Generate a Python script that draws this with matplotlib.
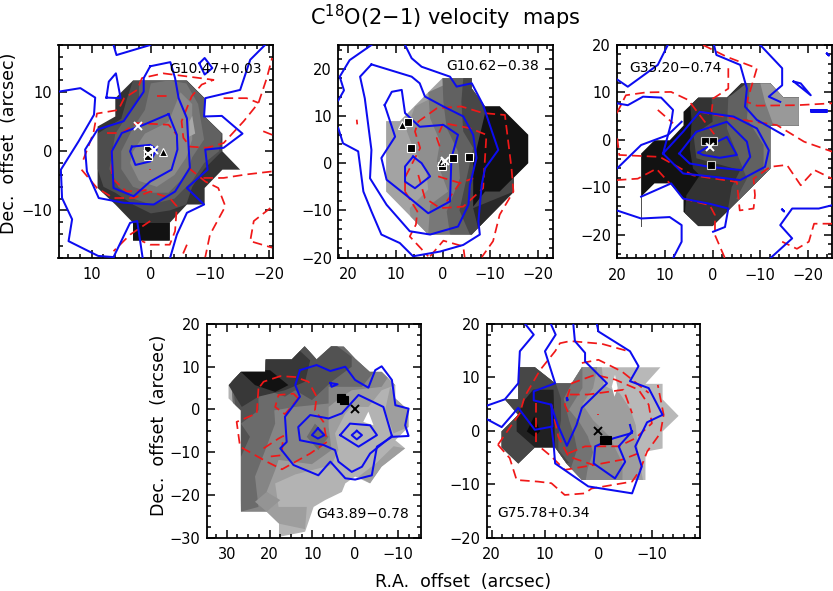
import matplotlib
matplotlib.use('Agg')
import matplotlib.pyplot as plt
from matplotlib.patches import Polygon
from matplotlib.ticker import MultipleLocator

# ---------- G10.47+0.03 ----------
a_outline = [(3,12),(-6.1,12),(-9.1,9),(-9.1,5.9),(-12.1,3),(-12.1,0),(-15.1,-3.1),(-12.1,-3.1),(-9.1,-6.2),(-9.1,-9),(-6.1,-9),(-3.2,-12.1),(-3.2,-15.1),(3,-15.1),(3,-12.1),(6,-9),(9,-6.2),(9,4.2),(6,5.9),(6,9)]
a_fills = [
 [(3,12),(-6,12),(-9,9),(-9,6),(-12,3),(-12,0),(-9,-3),(-7,-6),(-6,-9),(-3.2,-10),(0,-10.5),(3,-9),(6,-7),(8,-6),(9,-3),(9,3),(5,5.5),(4,9)],
 [(2,12),(-6,12),(-9,9),(-9,6),(-12,3),(-11.5,0),(-9,-2),(-7,-5),(-4,-8),(0,-9),(3,-8),(5.5,-6),(7,-3),(6.5,0),(6,3),(4,6),(2,9)],
 [(0,11.5),(-3,12),(-6,11.5),(-8,8),(-8.5,5),(-9,2),(-7,-1),(-6,-4),(-3,-7),(0,-7),(3,-6),(5,-3),(5,0),(3,4),(1,7)],
 [(-5,10),(-7,8),(-7,2),(-6,-1),(-4,-4),(-1,-6),(2,-5),(3.5,-2),(3,0),(1,3),(-3,5)],
 [(-7,6),(-7.5,3),(-6.5,2.5),(-6.5,5)],
 [(3,-12.1),(-3.2,-12.1),(-3.2,-15.1),(3,-15.1)],
]
a_blue = [
 [(15.6,10.1),(11.9,10.7),(9.4,9.1),(9.6,6.2),(12.2,1.7),(15.2,-3.1),(15,-7.9),(13.3,-11.5),(13.9,-15.2),(8.9,-17.7),(6.3,-17.9)],
 [(6.3,18),(5.8,16.3),(0.1,18)],
 [(7.5,9.1),(7.1,11.8),(5.9,13.2),(5.1,9),(7.5,9.1)],
 [(-8.2,14.9),(-9.1,15.8),(-10.4,14.1),(-9.1,13),(-8.2,14.9)],
 [(-19.3,18),(-16.8,15.5),(-15.1,10.4),(-9.2,9),(-9,5.9),(-12,6),(-15.5,3),(-12.3,0.6),(-9.2,0.3),(-9.6,-3.1),(-6.1,-6.2),(-9,-9),(-6.1,-10.4),(-4.4,-14.1),(-3.3,-17.9)],
 [(6.3,-17.9),(3.5,-12.1),(2.3,-11.8),(1.4,-17.9)],
 [(0.1,14.4),(-3.3,15.1),(-4.1,12.4),(-4.7,9),(-6.1,5.6),(-6.4,0.6),(-6.6,-2.8),(-4.1,-6.8),(-0.5,-9),(4.6,-8.7),(8.8,-7.9),(10.8,-3.4),(11.1,0.3),(9,3.7),(4.6,5.1),(1.2,10.1),(1.2,12.4),(0.1,14.4)],
 [(-3,6.3),(-4.4,2.8),(-4.5,0.3),(-3.5,-3.1),(0.1,-5.1),(2.9,-7.6),(6.3,-6.2),(6.6,0),(4.9,3.1),(1.2,4.5),(-3,6.3)],
 [(3.2,0.8),(3.5,0),(2.6,-2.3),(0.1,-1.7),(-1,0.3),(0.1,1.1),(3.2,0.8)],
]
a_red = [
 [(11.4,-1.4),(9.7,3.1),(9.1,6.4),(5.5,7),(4.5,9),(2.3,10.4),(1.5,12.4),(-2.1,13.2),(-10.6,12.1),(-8.6,11.3),(-6.9,9.3),(-5.2,5.1),(-5.5,2.3),(-6.6,0.8),(-9.5,0.6),(-12.3,1.4),(-15.7,5.1),(-18.2,8.2),(-19.6,12.4),(-20.5,15.8)],
 [(11.7,-3.1),(9.1,-6.2),(6.3,-7.9),(2.9,-7.9),(0.1,-6.8),(-3.2,-7.9),(-4.4,-9.3),(-4.1,-13.5),(-3.2,-15.8),(0.1,-15.8),(1.5,-15.2)],
 [(0.1,-11.8),(3.5,-14.1),(6.3,-16.9)],
 [(7.4,3.1),(4.9,3.1),(2.4,4.8),(-3,4.5),(-4.4,2.8)],
 [(6.6,0.3),(6.6,-4.5),(4.1,-6.8),(0.1,-6.5)],
 [(-1,9.3),(-3.3,9.3)],
 [(-12.3,9),(-16.2,9),(-18.2,8.2)],
 [(-19,3.4),(-20.5,2.8)],
 [(-8.9,-4.5),(-12.3,-4.5),(-16.2,-3.9),(-20.5,-3.4)],
 [(-6.4,-2.8),(-9.2,-5.1),(-11.4,-6.2),(-12.6,-9.3),(-10,-14.1),(-9.2,-17.9)],
 [(-20.2,-9.6),(-17.4,-11.8),(-16.8,-15.2),(-20.5,-16.3)],
 [(-6.1,-15.8),(-5.2,-17.9)],
 [(0.1,-3),(0.1,-3.2)],
]
a_squares = [(0.5,0.3),(0.5,-0.8)]
a_triangles = [(-2.1,-0.1)]
a_crosses = [(2.1,4.3),(0.4,-0.5),(-0.6,0.3)]

# ---------- G10.62-0.38 ----------
b_outline = [(0.1,18),(-6.1,18),(-6.1,15.8),(-8.9,12),(-12,12),(-18,6),(-18,0),(-15,-3),(-15,-6),(-8.9,-12.2),(-6.1,-15.1),(3.1,-15.1),(12,-6),(12,8.9),(9.1,8.9),(3.1,15)]
b_fills = [
 [(5.9,12),(7.7,7),(6.3,3.2),(3.5,-1.8),(3.1,-5.6),(7,-9.5),(6.6,-15.1),(-30,-30),(-30,30)],
 [(3.1,15),(2.7,9.5),(0.6,4.6),(1.3,0.4),(-1.1,-6),(2.7,-8.8),(3.1,-15.1),(-30,-30),(-30,30)],
 [(0.1,18),(-0.1,13),(-0.8,7.4),(-3.2,2.5),(-3.6,-3.2),(-0.8,-10.2),(-1.5,-15.1),(-30,-30),(-30,30)],
 [(-4.3,18),(-3.9,13),(-4.3,6.7),(-6.4,3.2),(-5,-3.2),(-3.5,-10),(-5.7,-15.1),(-30,-30),(-30,30)],
 [(-6.4,-9.5),(-15,-6),(-18,-10),(-9,-20)],
 [(-8.9,12),(-12,12),(-18,6),(-18,0),(-15,-3),(-12,-6),(-8.9,-6),(-6.4,-9.2),(-6.4,0),(-8.9,10.5)],
]
b_blue = [
 [(15.1,25),(19.7,21.8),(21.8,18.3),(20.9,15.4),(22.1,13.3)],
 [(8,25),(6.6,22.2),(4.5,20.4),(-1.5,18.3),(-2.9,16.2),(-6.1,16.9),(-8.5,12.3),(-9.9,8.1),(-11.7,2.8),(-8.9,-1.1),(-8.2,-4.6),(-7.5,-12.3),(-7.8,-15.1),(-4.3,-17.3),(0.6,-18.7),(6.3,-19.7),(9.1,-16.9),(13,-15.1),(15.1,-10.2),(16.8,-6),(17.9,2.5),(21.1,4.2),(22.1,7.4)],
 [(15.1,20.9),(6.6,18.3),(4.9,16.9),(3.8,14.1),(-0.1,12),(-4.3,9.9),(-6.4,6),(-7.1,1.1),(-5.7,-4.6),(-5.4,-8.8),(-3.2,-13.4),(2.7,-15.1),(7,-14.4),(11.9,-8.8),(15.4,-3.2),(15.1,2.8),(16.5,13.7),(17.5,18.3),(15.1,20.9)],
 [(12.3,12.3),(10.8,15.1),(8.7,15.5),(8,10.6),(4.9,7.7),(-0.1,8.1),(-3.2,6),(-1.8,1.1),(-1.5,-8.1),(3.1,-10.6),(7,-7.4),(11.9,-3.5),(13,1.1),(10.1,5.6),(12.3,12.3)],
 [(6.3,1.4),(8,-0.7),(8,-3.9),(5.9,-5.3),(2.7,-2.8),(4.5,0),(6.3,1.4)],
]
b_red = [
 [(18.2,9.2),(18.1,8.2)],
 [(8,-6),(5.4,-10.2),(5.7,-13),(7,-15.5),(3.1,-19.7)],
 [(2.7,-19.7),(-0.1,-16.4),(-4.3,-17.6),(-4.6,-19.9)],
 [(8,-6),(8,-3),(4.8,3.2),(5.9,6.7),(5.2,8.8),(1.3,11.6),(-3.9,12),(-8.5,10.6),(-13.1,10.2),(-14.5,-1.1),(-14.9,-6),(-12,-10.9),(-10.6,-16.5),(-8.2,-19.9)],
 [(5.2,-2.5),(3.8,-7.4),(0.6,-9.5),(-4.3,-9.2),(-8.5,-5.3),(-9.2,6),(-5.7,7.4),(-0.1,8.5),(1.3,5.3),(0.3,2.5)],
 [(1,-2.8),(-3.6,-4.2),(-6.4,-3.2)],
 [(-0.8,-8.1),(-3.6,-4.2)],
]
b_squares = [(7.4,8.8),(6.8,3.2),(-5.6,1.3),(-2.2,1.1),(0.1,-0.5)]
b_triangles = [(8.7,8.1),(0.4,0.2)]
b_crosses = [(-0.4,0.4)]

# ---------- G35.20-0.74 ----------
c_outline = [(15,-2.9),(12.2,-0.1),(9,-0.1),(6.1,3),(6.1,5.9),(3,8.9),(-3,8.9),(-6,11.9),(-12.1,11.9),(-14.9,8.9),(-18.1,8.9),(-18.1,3),(-12.1,3),(-12.1,-6.1),(-3,-15.2),(0,-18.2),(3,-18.2),(6.1,-15.2),(6.1,-12.4),(9,-9.2),(12.2,-9.2),(15,-12)]
c_fills = [
 [(4.8,8.9),(4.4,3.8),(4.8,-1.8),(4.1,-6.1),(2.7,-7.5),(5.5,-11.7),(5.8,-15.2),(5,-30),(-30,-30),(-30,30)],
 [(0.2,8.9),(0,3.8),(4,1),(3.4,-3.9),(-5.8,-6.4),(-4,-10),(-3,-16),(-30,-16),(-30,12)],
 [(-3.3,8.9),(-3,2.4),(-5.8,-4.6),(-7.2,-8.2),(-5,-12.4),(-30,-30),(-30,30)],
 [(-7.9,11.9),(-7.2,4.5),(-10.7,-1.1),(-10.7,-6.1),(-30,-30),(-30,30)],
 [(-10,12),(-11,8),(-12.8,3),(-13,-20),(-30,-20),(-30,12)],
]
c_blue = [
 [(9.4,20),(11.5,15.8),(17.8,11.2),(20,12.7)],
 [(20.1,7.7),(17.8,7.3),(14.6,9.1),(10.8,8.9),(8.3,6.3),(8.7,3.5),(10.4,-2.9),(6.2,-7.1),(-0.1,-7.8),(-5.8,-8.5),(-11,-5.7),(-11.8,-2.2),(-9.3,2.4),(-4.4,4.9),(2.7,5.9),(6.2,1.7),(10.4,-2.9)],
 [(20.1,-6.1),(15,-1.1),(9.4,1),(6.5,3.8)],
 [(7,-2.9),(3.4,1.7),(-3,3.8),(-7.2,-0.4),(-7.9,-3.6),(-6.1,-6.4),(0.6,-5.7),(4.8,-5),(7,-2.9)],
 [(3,-2.7),(-0.1,-0.8),(-3,0.6),(-5.1,-3.2),(-1.5,-3.8),(2,-3.2),(3,-2.7)],
 [(15,-12),(8.7,-9.2),(6.2,-12.4),(0.6,-13.5),(-3.3,-14.5),(-2.6,-18.4),(-0.1,-19.4)],
 [(20.1,-14.9),(15,-16.6),(9,-16.3),(6.5,-18),(6.5,-21.5),(8.3,-25)],
 [(-12.1,-25),(-16.7,-20.8),(-14.2,-18),(-16.7,-14.5),(-22.3,-14.5),(-25.1,-13.8)],
 [(-0.3,20),(-0.8,17.9),(-5.8,15.8),(-7.2,10.8),(-6.8,7),(-9.3,4.2),(-14.9,1)],
 [(-10,20),(-14.6,15.1),(-14.6,11.5),(-11.8,9.1),(-14.2,8)],
 [(-17,12.3),(-20.6,9.4),(-18.5,11.9),(-17,12.3)],
 [(-20.6,6.3),(-24.1,6.3),(-24.1,5.8),(-20.6,5.8),(-20.6,6.3)],
 [(-14.6,-14.7),(-15,-15.1),(-14.6,-14.7)],
 [(-24,18.2),(-24.4,17.8),(-24,18.2)],
]
c_red = [
 [(20.1,5.6),(18.2,9.4),(14,10),(8.7,10.1),(5.1,8.4),(2.7,5.2),(-0.5,1)],
 [(11.5,6.3),(8.3,3.5)],
 [(2,20),(-3,17.5),(-9.3,15.1),(-7.2,8),(-9.3,7.2),(-17.7,7.3),(-25.1,7.7)],
 [(-3.3,15.1),(-3.3,10.8),(-0.1,8.7),(0.2,5.9)],
 [(2.7,5.9),(-4.4,4.5),(-13.5,3.1),(-19.2,-0.4),(-25.1,-2.5)],
 [(20,0.3),(19.6,-3.2),(11.1,-3.6),(4.1,-7.5),(-5.1,-8.9),(-5.7,-14.9),(-8.6,-14.5),(-8.9,-11.7),(-8.6,-8.2),(-12.1,-5.7),(-15.6,-5.3),(-18.5,-9.6),(-21.4,-6.4),(-25.1,-8.2)],
 [(20.1,-8.5),(15.7,-8.2),(11.8,-6.1),(9,-9.2)],
 [(6.2,-12.4),(0.6,-13.8),(-0.5,-15.9),(-0.5,-20.1),(-2.6,-25)],
 [(-25.1,-17.7),(-21.3,-17.7),(-20.2,-21.5),(-17.7,-23),(-14.6,-21.5)],
]
c_squares = [(1.6,-0.3),(0,-0.3),(0.4,-5.4)]
c_triangles = []
c_crosses = [(0.6,-1.5)]
c_stem_x = [15,15]
c_stem_y = [-12,-18.2]

# ---------- G43.89-0.78 ----------
d_outline = [(29.6,5.7),(26.7,8.8),(21,8.8),(20.9,11.7),(14.8,11.7),(11.8,14.8),(9,11.7),(5.6,14.8),(2.7,14.8),(0,11.9),(-3.4,8.8),(-6.2,8.8),(-9.4,5.7),(-9.4,2.6),(-12.5,-0.2),(-12.5,-4.1),(-9.4,-7.2),(-11.7,-9.1),(-6.2,-13.4),(-3.5,-17.3),(0,-15.7),(2.3,-17.3),(3.1,-19.3),(7,-21.2),(9.7,-22.8),(11.7,-28.6),(17.8,-29.8),(17.8,-26.7),(20.7,-23.9),(26.7,-23.9),(26.7,-0.2),(29.6,2.6)]
d_fills = [
 [(26.7,-23.9),(17.9,-26.7),(11.7,-28),(11.3,-22.8),(17.9,-22.8),(18.7,-17.3),(14,-15.2),(5.5,-13),(3.9,-9.5),(4.7,-5.6),(2.3,-1),(0.8,0.6),(-3.1,0.6),(-6.2,4.5),(-9.4,5.7),(-8.6,9),(14,15.2),(29.6,15.2)],
 [(-8.2,5.3),(-9.4,2.6),(-12.5,-0.2),(-12.5,-4.1),(-9,-5.6),(-7,-0.2)],
 [(-0.8,-15.7),(-3.5,-17.3),(-6.2,-13.4),(-11.7,-9.1),(-9,-8.6),(-5,-12.5)],
 [(26.7,-23.9),(20.7,-23.9),(18.4,-21.2),(20.7,-19.3),(18.7,-14.2),(17.9,-11.8),(10.1,-12.8),(5.5,-9.5),(6.2,-4),(6.2,0.6),(3.1,3),(0.8,4.5),(-6.2,5.3),(-8.2,8.3),(-1.6,13.9),(29.6,15.2)],
 [(26.7,-23.9),(22.6,-22.8),(23.4,-15.7),(21,-9.5),(18.7,-3.3),(18.9,-0.2),(14,0.6),(6.2,1.4),(6.2,5.3),(-1.6,5.3),(-4.7,9.2),(0,14.7),(29.6,15.2)],
 [(9.4,-3.3),(6.2,-6.4),(8.6,-9.5),(11.3,-6.4)],
 [(26.7,-11.1),(24.6,-6.4),(26.7,-3.3),(22.6,-0.2),(22.6,5.3),(16.4,3),(14,4.5),(10.1,2.2),(5.5,6.5),(0.8,10),(0.8,12.3),(4.7,15.2),(29.6,15.2)],
 [(29.6,5.7),(26.5,0.6),(22.6,3),(16.4,4.5),(11.7,6.5),(10.5,11.5),(14,14.7),(29.6,15.2)],
 [(26.7,8.8),(23.4,5.7),(18.7,4.1),(15.6,5.7),(19.9,9.2),(24.2,9.2)],
]
d_diamond = [(20.7,-19.3),(17.5,-21.2),(20.7,-23.9),(23.4,-21.6)]
d_hole = [(-3.1,-0.5),(-4.3,-3.7),(-1.9,-2.9)]
d_blue = [
 [(12.9,9.2),(14,5.7),(12.9,3),(16.4,-1.7),(16,-7.6),(17.5,-9.1),(14.4,-13),(8.6,-15.4),(5.8,-12.2),(2.3,-16.1),(0,-16.4),(-3.9,-15.4),(-5.1,-8.7),(-8.6,-6.4),(-12.5,-6.2),(-11.7,-3.7),(-12.5,0.2),(-9.4,1),(-8.6,6.9),(-6.2,10.1),(-4.7,9.2),(-3.1,5.1),(0,6.9),(2.3,10),(5.8,9),(9,10.4),(12.9,9.2)],
 [(-8.6,-6.2),(-6.6,0.6),(-0.8,3.4),(3.1,-0.9),(6.2,-2.1),(10.5,-1.3),(13.3,-4.1),(12.9,-7.2),(7.4,-8.3),(4.7,-9.5),(3.9,-12.2),(0.8,-14.6),(-1.6,-13.4),(-3.5,-10.3),(-8.6,-6.2)],
 [(3.5,-6),(1.2,-3.3),(-3.5,-3.7),(-5.1,-6),(-0.8,-8.7),(3.5,-6)],
 [(-0.4,-5),(-1.6,-6),(-0.4,-7),(0.8,-6),(-0.4,-5)],
 [(8.7,-4.4),(7.2,-6),(8.7,-6.8),(10.1,-6),(8.7,-4.4)],
 [(5.8,6.2),(4.1,5.9),(5.5,5.3),(5.8,6.2)],
]
d_red = [
 [(22.6,4.9),(23,-0.9),(27.7,-2.9),(26.9,-8.7),(20.7,-12.2),(17.1,-14),(10.5,-10.3),(6.6,-7.6),(7.4,-2.9),(9.4,-0.2),(9,3),(10.9,6.5),(14,7.6),(17.5,7.8),(21.4,6.5),(22.6,4.9)],
 [(13.3,2.6),(14.4,3.7),(17.9,3.4),(18.7,0.6),(16.4,-1.1),(13.3,2.6)],
 [(21.4,-9.1),(17.9,-6.8),(16.8,-6.2),(17,-8.3),(17.1,-10.7),(20.7,-11.1)],
]
d_squares = [(3.4,2.6),(2.5,2.2)]
d_triangles = []
d_crosses = [(0,0)]

# ---------- G75.78+0.34 ----------
e_outline = [(18.1,-0.1),(15,3),(17.5,5.9),(15,5.9),(15,11.9),(11.9,11.9),(8.1,8.9),(5,8.9),(3.1,11.9),(-11.6,11.9),(-8.8,8.8),(-12,8.8),(-12,5.9),(-15,2.8),(-12,-0.1),(-12,-3.3),(-8.8,-3.9),(-8.8,-9.2),(3.1,-9.2),(5.9,-6.2),(8.1,-3.1),(11.9,-3.1),(15,-6.1),(18.1,-3.1)]
e_fills = [
 [(25,13),(-0.5,13),(-1,8.5),(-4,7),(-6,4),(-7,1),(-7.5,-5),(-8.5,-10),(25,-10)],
 [(25,13),(0,13),(1,8),(3,5),(1,2),(-2,-1),(-3,-3),(-4.5,-6),(-4.5,-10),(25,-10)],
 [(25,13),(3,13),(3,8),(5.5,4),(3.5,1.5),(2,-1),(1,-4),(2,-7),(2.5,-10),(25,-10)],
 [(25,13),(5.5,13),(5,8.9),(6.5,6),(5.5,2),(4.5,-1),(4,-3.5),(5,-6.5),(6,-10),(25,-10)],
 [(25,13),(8,13),(8,9),(7,6),(7,2),(7.5,-1),(7.5,-3.5),(5.5,-6),(25,-10)],
 [(12.2,7.7),(8.4,7.7),(8.1,-3.1),(11.9,-3.1),(15.3,-0.1),(15.3,2.7),(13.8,5.8)],
 [(12,2.7),(10.9,-0.1),(12,-1.1),(13.4,-0.1)],
]
e_hole = [(-3.1,10.5),(-3.6,8),(-3,6.4),(-2.5,8.3)]
e_blue = [
 [(20.9,4.7),(17.5,5.9),(15,8.9),(14.7,14.9),(12.1,18),(13.7,20)],
 [(20.9,2.2),(18.1,0.7),(15,4.3),(11.9,0.2),(8.6,0.8),(8.8,4.9),(12.1,5.7),(12.1,7.4),(8.1,8.9),(10,14.9),(8,18),(8.9,20)],
 [(4.7,20),(4.4,16.8),(2.5,14.6),(2.5,13),(-1.6,8.9),(3.1,4.3),(4.1,1.1),(5.9,-2.8),(7.6,1.1),(8.9,4.9)],
 [(0.3,20),(0,18.6),(-5.9,14.9),(-7.5,12.1),(-5.9,9.3),(-9.4,8),(-12,3),(-9.1,1.6),(-6.9,-2.9),(-8.1,-6.7),(-6.3,-11.7),(1.9,-10.4),(8.1,-6.1),(8.4,-2.3),(8.8,0.8)],
 [(-5.9,1.1),(-6.3,-0.4),(-2.8,-1.4),(0.6,-2.9),(0.9,-6.1),(-3.1,-8.9),(-5,-5.8),(-3.8,-2.9),(-6.3,-0.1)],
 [(5.9,6.1),(5.7,5.8),(5.9,5.7),(5.9,6.1)],
]
e_red = [
 [(18.8,-2.6),(16.6,-5.1),(15.3,-9.2),(11.3,-9.5),(8.8,-9.8),(6.3,-12),(2.5,-11.7),(1.3,-10.8),(-6.3,-9.5),(-7.8,-7.3),(-9.1,-3.9),(-11.6,-0.4),(-12.2,3),(-11.1,8.6)],
 [(18.8,-2.6),(14.7,3.3),(13.8,6.4),(10.9,11.4),(8.1,14.9),(7.2,16.4),(5.3,16.8),(-0.6,16.3),(-5.6,14.9)],
 [(11.6,5.2),(11.6,-2.3)],
 [(8.8,4.9),(7.5,-1.1),(5.6,-4.8),(0.9,-6.4),(-4.4,-5.4),(-7.5,-4.2)],
 [(10.6,-3.3),(8.8,-4.8),(6.3,-7.3),(0.9,-6.4)],
 [(5.6,-4.2),(2.5,-2.9),(-3.8,-2.9),(-6.9,-1.4),(-10,1.4),(-9.4,4.9),(-7.5,7.7),(-3.1,9.6),(0.6,10.5),(5,8.9),(6.3,4.9),(5.6,3.3)],
 [(5.3,6.8),(1.9,6.8),(-4.7,7.7),(-6.3,3.3)],
 [(3.1,12.7),(0,13.3),(-4.4,11.1),(-9.4,7.1)],
 [(0,3.1),(0,2.9)],
]
e_squares = [(-1.6,-1.8),(-1.1,-1.8)]
e_triangles = []
e_crosses = [(0,0)]

SIZE_W, SIZE_H = 833.0, 591.0
BLUE = '#0c0cf0'
RED = '#f01818'


def make_axes(fig, box, xlim, ylim, xticks, yticks, xminor=2, yminor=2):
    left, top, right, bottom = box
    ax = fig.add_axes([left/SIZE_W, 1-bottom/SIZE_H, (right-left)/SIZE_W, (bottom-top)/SIZE_H])
    ax.set_xlim(xlim)
    ax.set_ylim(ylim)
    ax.set_xticks(xticks)
    ax.set_yticks(yticks)
    ax.xaxis.set_minor_locator(MultipleLocator(xminor))
    ax.yaxis.set_minor_locator(MultipleLocator(yminor))
    ax.set_xticklabels([str(v).replace('-', '\u2212') for v in xticks])
    ax.set_yticklabels([str(v).replace('-', '\u2212') for v in yticks])
    ax.tick_params(which='major', direction='in', top=True, right=True, length=5.5, width=1.1, labelsize=10.5)
    ax.tick_params(which='minor', direction='in', top=True, right=True, length=2.8, width=1.1)
    ax.tick_params(axis='x', which='major', pad=7)
    ax.tick_params(axis='y', which='major', pad=4.5)
    for s in ax.spines.values():
        s.set_linewidth(1.3)
    return ax


def draw_map(ax, outline, fills, greys, base):
    sil = Polygon(outline, closed=True, fc=str(base), ec='none', zorder=1)
    ax.add_patch(sil)
    for poly, g in zip(fills, greys):
        p = Polygon(poly, closed=True, fc=str(g), ec='none', zorder=1.5)
        ax.add_patch(p)
        p.set_clip_path(sil)


def draw_lines(ax, blue, red):
    for line in red:
        x, y = zip(*line)
        ax.plot(x, y, color=RED, lw=1.25, dashes=(5.5, 3), zorder=3)
    for line in blue:
        x, y = zip(*line)
        ax.plot(x, y, color=BLUE, lw=1.45, zorder=4)


def draw_markers(ax, squares, triangles, crosses, edge, xcolor):
    if squares:
        x, y = zip(*squares)
        ax.plot(x, y, 's', ms=5.2, mfc='k', mec=edge, mew=0.8, ls='none', zorder=5)
    if triangles:
        x, y = zip(*triangles)
        ax.plot(x, y, '^', ms=6, mfc='k', mec=edge, mew=0.8, ls='none', zorder=5)
    if crosses:
        x, y = zip(*crosses)
        ax.plot(x, y, 'x', ms=5.5, color=xcolor, mew=1.4, ls='none', zorder=6)


fig = plt.figure(figsize=(8.33, 5.91), dpi=100)

ax1 = make_axes(fig, (58.5, 45, 272.7, 257.7), (15.6, -20.6), (-18, 18), [10, 0, -10, -20], [10, 0, -10])
draw_map(ax1, a_outline, a_fills, [0.3, 0.38, 0.46, 0.54, 0.66, 0.07], 0.2)
draw_lines(ax1, a_blue, a_red)
draw_markers(ax1, a_squares, a_triangles, a_crosses, 'white', 'white')
ax1.text(-3.2, 14, 'G10.47+0.03', fontsize=10, ha='left', va='center', zorder=7)

ax2 = make_axes(fig, (338.3, 45, 552.7, 257.7), (22.1, -23.2), (-20, 25), [20, 10, 0, -10, -20], [20, 10, 0, -10, -20])
draw_map(ax2, b_outline, b_fills, [0.56, 0.47, 0.38, 0.28, 0.16, 0.07], 0.64)
draw_lines(ax2, b_blue, b_red)
draw_markers(ax2, b_squares, b_triangles, b_crosses, 'white', 'white')
ax2.text(-0.8, 20.6, 'G10.62\u22120.38', fontsize=10, ha='left', va='center', zorder=7)

ax3 = make_axes(fig, (617.3, 45, 831.7, 258.3), (20, -25), (-25, 20), [20, 10, 0, -10, -20], [20, 10, 0, -10, -20])
draw_map(ax3, c_outline, c_fills, [0.2, 0.3, 0.38, 0.48, 0.6], 0.07)
ax3.plot(c_stem_x, c_stem_y, color='0.3', lw=0.7, zorder=2)
draw_lines(ax3, c_blue, c_red)
draw_markers(ax3, c_squares, c_triangles, c_crosses, '0.8', 'white')
ax3.text(17.4, 15.2, 'G35.20\u22120.74', fontsize=10, ha='left', va='center', zorder=7)

ax4 = make_axes(fig, (206.7, 324, 421, 537.7), (34.7, -15.4), (-30, 20), [30, 20, 10, 0, -10], [20, 10, 0, -10, -20, -30], 2.5, 2.5)
draw_map(ax4, d_outline, d_fills, [0.62, 0.62, 0.62, 0.52, 0.42, 0.42, 0.32, 0.22, 0.07], 0.7)
ax4.add_patch(Polygon(d_diamond, closed=True, fc='0.58', ec='none', zorder=2))
ax4.add_patch(Polygon(d_hole, closed=True, fc='white', ec='none', zorder=2))
draw_lines(ax4, d_blue, d_red)
draw_markers(ax4, d_squares, d_triangles, d_crosses, 'k', 'k')
ax4.text(9, -24.4, 'G43.89\u22120.78', fontsize=10, ha='left', va='center', zorder=7)

ax5 = make_axes(fig, (486.7, 324, 700, 537.7), (20.9, -19), (-20, 20), [20, 10, 0, -10], [20, 10, 0, -10, -20])
draw_map(ax5, e_outline, e_fills, [0.62, 0.54, 0.45, 0.36, 0.28, 0.13, 0.03], 0.72)
ax5.add_patch(Polygon(e_hole, closed=True, fc='white', ec='none', zorder=2))
draw_lines(ax5, e_blue, e_red)
draw_markers(ax5, e_squares, e_triangles, e_crosses, 'k', 'k')
ax5.text(18.9, -15.4, 'G75.78+0.34', fontsize=10, ha='left', va='center', zorder=7)

fig.text(463/SIZE_W, 1-582/SIZE_H, 'R.A.  offset  (arcsec)', fontsize=12.5, ha='center', va='center')
fig.text(9.5/SIZE_W, 1-143/SIZE_H, 'Dec.  offset  (arcsec)', fontsize=12.5, rotation=90, ha='center', va='center')
fig.text(159/SIZE_W, 1-425/SIZE_H, 'Dec.  offset  (arcsec)', fontsize=12.5, rotation=90, ha='center', va='center')
fig.text(445/SIZE_W, 1-17/SIZE_H, 'C$^{18}$O(2\u22121) velocity  maps', fontsize=15, ha='center', va='center')

fig.savefig('out.png', dpi=100)
